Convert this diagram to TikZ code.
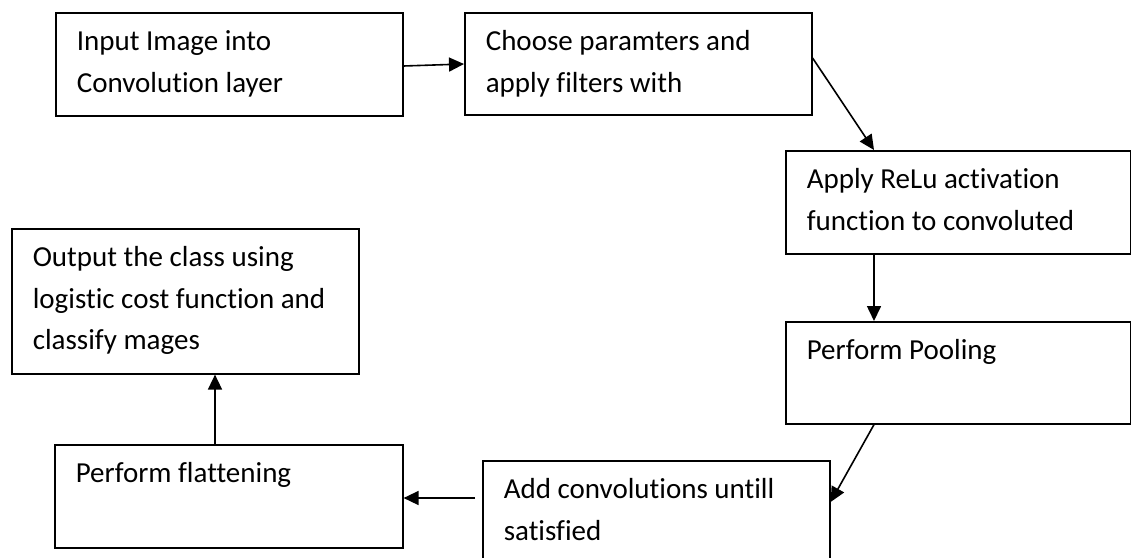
\documentclass[tikz,border=0pt]{standalone}
\usepackage{fontspec}
\setmainfont[Ligatures=NoCommon]{Carlito}
\usetikzlibrary{arrows.meta,calc}

% text of a step: first baseline 38pt below the frame top, 21pt left inset
\newcommand{\steptext}[3]{%
  \parbox[t][#2][t]{#1}{\leftskip=21pt\rule{0pt}{38pt}#3}}

\tikzset{
  stepbox/.style={draw, line width=1.6pt, inner sep=0pt, anchor=north west,
    font=\fontsize{29pt}{41.5pt}\selectfont},
  flow/.style={line width=1.6pt, -{Triangle[length=15pt,width=14pt]}}
}

\begin{document}
\begin{tikzpicture}[x=1pt, y=-1pt]
  \useasboundingbox (0,0) rectangle (1131,557);
  \clip (0,0) rectangle (1131,557);

  \node[stepbox] (input)   at (55,12)  {\steptext{347pt}{103pt}{Input Image into\\Convolution layer}};
  \node[stepbox] (choose)  at (464,12) {\steptext{347pt}{102pt}{Choose paramters and\\apply filters with}};
  \node[stepbox] (relu)    at (785,150) {\steptext{345pt}{103pt}{Apply ReLu activation\\function to convoluted}};
  \node[stepbox] (pool)    at (785,321) {\steptext{345pt}{102pt}{Perform Pooling}};
  \node[stepbox] (addconv) at (482,460) {\steptext{347pt}{115pt}{Add convolutions untill\\satisfied}};
  \node[stepbox] (flat)    at (54,444) {\steptext{348pt}{103pt}{Perform flattening}};
  \node[stepbox] (output)  at (11,228) {\steptext{347pt}{145pt}{Output the class using\\logistic cost function and\\classify mages}};

  \draw[flow] ([yshift=-54pt]input.north east) -- ([yshift=-52pt]choose.north west);
  \draw[flow] ([yshift=-46pt]choose.north east) -- ([xshift=89pt]relu.north west);
  \draw[flow] ([xshift=89pt]relu.south west) -- ([xshift=89pt]pool.north west);
  \draw[flow] ([xshift=89pt]pool.south west) -- ([yshift=-42pt]addconv.north east);
  \draw[flow] ([xshift=-7pt,yshift=-38pt]addconv.north west) -- ([yshift=-54pt]flat.north east);
  \draw[flow] ([xshift=161pt]flat.north west) -- ([xshift=204pt]output.south west);
\end{tikzpicture}
\end{document}
